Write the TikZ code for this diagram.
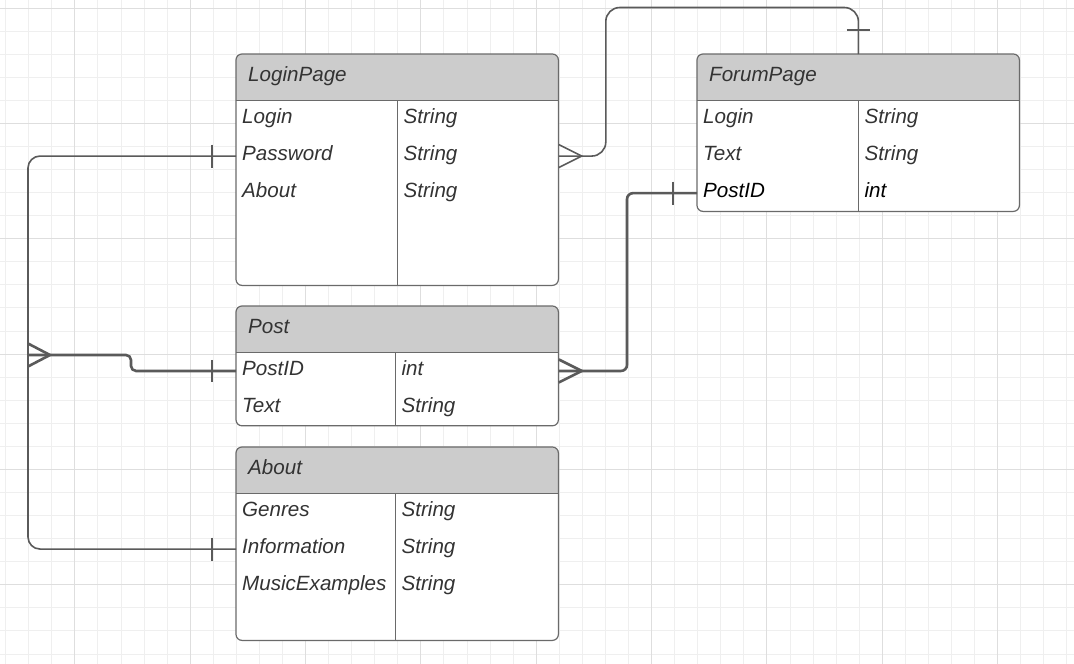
\documentclass[tikz,border=0pt]{standalone}
\usepackage{fontspec}
\setmainfont{Liberation Sans}
\usepackage{xcolor}
\usepackage{tikz}
\usetikzlibrary{positioning}

\definecolor{gridminor}{HTML}{EFEFEF}
\definecolor{gridmajor}{HTML}{DEDEDE}
\definecolor{headgray}{HTML}{CCCCCC}
\definecolor{tabline}{HTML}{6A6A6A}
\definecolor{relline}{HTML}{5A5A5A}
\definecolor{textgray}{HTML}{333333}

\begin{document}
\begin{tikzpicture}[x=1pt, y=-1pt,
				every node/.style={font=\fontsize{20.6}{24}\selectfont\itshape, text=textgray},
				tablebox/.style={fill=white, rounded corners=6pt, minimum width=322pt, inner sep=0pt, anchor=north west},
				tablehead/.style={fill=headgray, rounded corners=6pt, minimum width=322pt, minimum height=46pt, text width=298pt, inner xsep=12pt, inner ysep=0pt, align=left, text height=14pt, text depth=4.5pt, anchor=north west},
				field/.style={text width=#1, minimum height=36.7pt, inner xsep=6pt, inner ysep=0pt, align=left, text height=14pt, text depth=4.5pt},
				tabrule/.style={draw=tabline, line width=1.2pt},
				rel/.style={draw=relline, line width=1.6pt},
				relthick/.style={draw=relline, line width=2.6pt}
				]
				\useasboundingbox (0,0) rectangle (1074,664);
				\fill[white] (0,0) rectangle (1074,664);
				% background grid
				\begin{scope}
					\clip (0,0) rectangle (1074,664);
					\draw[gridminor, line width=0.9pt, shift={(5.6,8)}, step=23.07pt] (-30,-30) grid (1100,700);
					\draw[gridmajor, line width=1pt, shift={(74.7,8)}, step=115.35pt] (-120,-120) grid (1100,700);
				\end{scope}
				
				% LoginPage
				\node[tablebox, minimum height=231pt] (login) at (236,54) {};
				\node[tablehead] (loginhead) at (236,54) {LoginPage};
				\fill[headgray] ([yshift=8pt]loginhead.south west) rectangle (loginhead.south east);
				\node[field=149pt, below right=0pt and 0pt of loginhead.south west] (loginlogin) {Login};
				\node[field=149pt, below=0pt of loginlogin] (loginpass) {Password};
				\node[field=149pt, below=0pt of loginpass] (loginabout) {About};
				\node[field=149pt, right=0pt of loginlogin] (loginlogintype) {String};
				\node[field=149pt, right=0pt of loginpass] (loginpasstype) {String};
				\node[field=149pt, right=0pt of loginabout] (loginabouttype) {String};
				\draw[tabrule] (loginhead.south west) -- (loginhead.south east);
				\draw[tabrule] (loginlogin.north east) -- (loginlogin.east |- login.south);
				\draw[tabrule, rounded corners=6pt] (login.north west) rectangle (login.south east);
				
				% ForumPage
				\node[tablebox, minimum height=157pt] (forum) at (697,54) {};
				\node[tablehead] (forumhead) at (697,54) {ForumPage};
				\fill[headgray] ([yshift=8pt]forumhead.south west) rectangle (forumhead.south east);
				\node[field=149pt, below right=0pt and 0pt of forumhead.south west] (forumlogin) {Login};
				\node[field=149pt, below=0pt of forumlogin] (forumtext) {Text};
				\node[field=149pt, below=0pt of forumtext, text=black] (forumpost) {PostID};
				\node[field=149pt, right=0pt of forumlogin] (forumlogintype) {String};
				\node[field=149pt, right=0pt of forumtext] (forumtexttype) {String};
				\node[field=149pt, right=0pt of forumpost, text=black] (forumposttype) {int};
				\draw[tabrule] (forumhead.south west) -- (forumhead.south east);
				\draw[tabrule] (forumlogin.north east) -- (forumlogin.east |- forum.south);
				\draw[tabrule, rounded corners=6pt] (forum.north west) rectangle (forum.south east);
				
				% Post
				\node[tablebox, minimum height=119.4pt] (post) at (236,306) {};
				\node[tablehead] (posthead) at (236,306) {Post};
				\fill[headgray] ([yshift=8pt]posthead.south west) rectangle (posthead.south east);
				\node[field=147pt, below right=0pt and 0pt of posthead.south west] (postid) {PostID};
				\node[field=147pt, below=0pt of postid] (posttext) {Text};
				\node[field=151pt, right=0pt of postid] (posttype) {int};
				\node[field=151pt, right=0pt of posttext] (posttexttype) {String};
				\draw[tabrule] (posthead.south west) -- (posthead.south east);
				\draw[tabrule] (postid.north east) -- (postid.east |- post.south);
				\draw[tabrule, rounded corners=6pt] (post.north west) rectangle (post.south east);
				
				% About
				\node[tablebox, minimum height=193pt] (about) at (236,447) {};
				\node[tablehead] (abouthead) at (236,447) {About};
				\fill[headgray] ([yshift=8pt]abouthead.south west) rectangle (abouthead.south east);
				\node[field=147pt, below right=0pt and 0pt of abouthead.south west] (aboutgenres) {Genres};
				\node[field=147pt, below=0pt of aboutgenres] (aboutinfo) {Information};
				\node[field=147pt, below=0pt of aboutinfo] (aboutmusic) {MusicExamples};
				\node[field=151pt, right=0pt of aboutgenres] (aboutgenrestype) {String};
				\node[field=151pt, right=0pt of aboutinfo] (aboutinfotype) {String};
				\node[field=151pt, right=0pt of aboutmusic] (aboutmusictype) {String};
				\draw[tabrule] (abouthead.south west) -- (abouthead.south east);
				\draw[tabrule] (aboutgenres.north east) -- (aboutgenres.east |- about.south);
				\draw[tabrule, rounded corners=6pt] (about.north west) rectangle (about.south east);
				
				% relations
				\coordinate (leftbus) at (28,355);
				\coordinate (forumtop) at (forumlogin.east |- forum.north);
				
				\draw[rel, rounded corners=12pt] (loginpass.west) -| (leftbus |- aboutinfo.west) -- (aboutinfo.west);
				\draw[rel] ([xshift=-24pt]loginpass.west) ++(0,-11.5) -- ++(0,23);
				\draw[rel] ([xshift=-24pt]aboutinfo.west) ++(0,-11.5) -- ++(0,23);
				
				\draw[relthick, rounded corners=5pt] (postid.west) -| ([xshift=103pt]leftbus) -- (leftbus);
				\draw[relthick] ([yshift=11.5pt]leftbus) -- ([xshift=22pt]leftbus) -- ([yshift=-11.5pt]leftbus);
				\draw[relthick] ([xshift=-24pt]postid.west) ++(0,-11) -- ++(0,22);
				
				\draw[relthick, rounded corners=6pt] (posttype.east) -| ([xshift=-70pt]forumpost.west) -- (forumpost.west);
				\draw[relthick] ([yshift=11.5pt]posttype.east) -- ([xshift=23pt]posttype.east) -- ([yshift=-11.5pt]posttype.east);
				\draw[relthick] ([xshift=-24pt]forumpost.west) ++(0,-11.5) -- ++(0,23);
				
				\draw[rel, rounded corners=14pt] (loginpasstype.east) -- ++(47,0) |- ([yshift=46.5pt]forumtop) -- (forumtop);
				\draw[rel] ([yshift=11.5pt]loginpasstype.east) -- ([xshift=23pt]loginpasstype.east) -- ([yshift=-11.5pt]loginpasstype.east);
				\draw[rel] ([yshift=24pt]forumtop) ++(-11.5,0) -- ++(23,0);
			\end{tikzpicture}
\end{document}
